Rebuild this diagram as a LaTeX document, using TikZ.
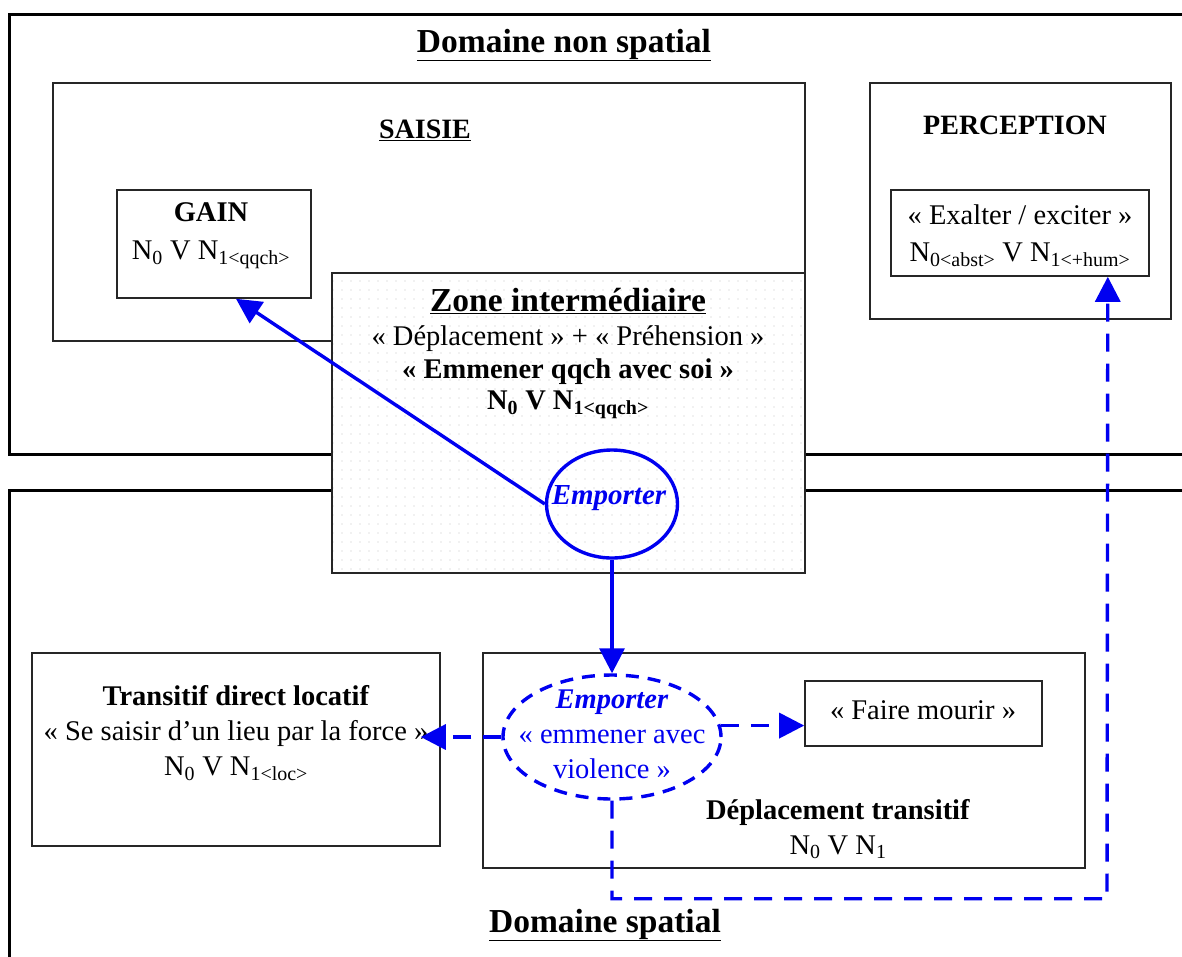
\documentclass[tikz,border=0pt]{standalone}
\usepackage{fontspec}
\setmainfont{Liberation Serif}
\usepackage{tikz}
\usetikzlibrary{shapes.geometric,arrows.meta,positioning,calc,fit,patterns.meta}
\definecolor{LinkBlue}{HTML}{0000F0}
\tikzset{
    % outer domains
    domain box/.style={
        rectangle,
        draw=black,
        line width=3pt,
        inner sep=0pt
    },
    frame/.style={
        rectangle,
        draw=black!85,
        line width=1.6pt,
        fill=white,
        inner sep=0pt
    },
    zone/.style={
        frame,
        preaction={fill=white},
        pattern={Dots[distance=9pt,radius=0.7pt]},
        pattern color=gray!45
    },
    textblock/.style={
        align=center,
        inner sep=0pt,
        font=\fontsize{28.5}{35}\selectfont
    },
    heading/.style={
        textblock,
        font=\fontsize{28}{35}\selectfont\bfseries
    },
    big heading/.style={
        textblock,
        font=\fontsize{33.5}{38}\selectfont\bfseries
    },
    verb/.style={
        ellipse,
        draw=LinkBlue,
        line width=3.4pt,
        inner sep=0pt
    },
    verb dashed/.style={
        verb,
        dash pattern=on 13pt off 9pt
    },
    arrow/.style={
        -{Triangle[length=25pt,width=25pt]},
        line width=3.4pt,
        color=LinkBlue
    },
    arrow dashed/.style={
        arrow,
        dash pattern=on 18pt off 12pt
    }
}

\begin{document}
\begin{tikzpicture}[x=1pt, y=-1pt]
        \useasboundingbox (0,0) rectangle (1182,956);

        % Domains
        \node[domain box, fit={(9,14) (1210,454)}] (nonspatial) {};
        \node[domain box, fit={(9,490) (1210,1010)}] (spatial) {};
        \node[big heading] (nonspatial_t) at (564,45) {\underline{Domaine non spatial}};
        \node[big heading] (spatial_t) at (605,925) {\underline{Domaine spatial}};

        % Non spatial boxes
        \node[frame, fit={(53,83) (805,341)}] (saisie) {};
        \node[heading] (saisie_t) at (425,130) {\underline{SAISIE}};
        \node[frame, fit={(117,190) (311,298)}] (gain) {};
        \node[textblock, font=\fontsize{28.5}{38}\selectfont] (gain_t) at (211,236)
              {\textbf{GAIN}\\N\textsubscript{0} V N\textsubscript{1<qqch>}};
        \node[frame, fit={(870,83) (1171,319)}] (perception) {};
        \node[heading] (perception_t) at (1015,125) {PERCEPTION};
        \node[frame, fit={(891,190) (1149,276)}] (exalter) {};
        \node[textblock, font=\fontsize{28.5}{37}\selectfont] (exalter_t) at (1020,236)
              {« Exalter / exciter »\\N\textsubscript{0<abst>} V N\textsubscript{1<+hum>}};

        % Intermediate zone
        \node[zone, fit={(332,273) (805,573)}] (zone) {};
        \node[big heading] (zone_t) at (568,301) {\underline{Zone intermédiaire}};
        \node[textblock, below=38pt of zone_t.center, anchor=center] (zone_a)
              {« Déplacement » + « Préhension »};
        \node[textblock, below=33pt of zone_a.center, anchor=center] (zone_b)
              {\bfseries « Emmener qqch avec soi »};
        \node[textblock, below=33pt of zone_b.center, anchor=center] (zone_c)
              {\bfseries N\textsubscript{0} V N\textsubscript{1<qqch>}};
        \node[verb, minimum width=131pt, minimum height=108pt] (emp) at (612,504) {};
        \node[textblock, text=LinkBlue, font=\fontsize{29}{35}\selectfont\bfseries\itshape]
              (emp_t) at (609,498) {Emporter};

        % Spatial boxes
        \node[frame, fit={(32,653) (440,846)}] (transitif) {};
        \node[textblock] (transitif_t) at (236,733)
              {\textbf{Transitif direct locatif}\\« Se saisir d’un lieu par la force »\\N\textsubscript{0} V N\textsubscript{1<loc>}};
        \node[frame, fit={(483,653) (1085,868)}] (deplacement) {};
        \node[textblock] (deplacement_t) at (838,829)
              {\textbf{Déplacement transitif}\\N\textsubscript{0} V N\textsubscript{1}};
        \node[frame, fit={(805,681) (1042,746)}] (mourir) {};
        \node[textblock] (mourir_t) at (923,710) {« Faire mourir »};
        \node[verb dashed, minimum width=218pt, minimum height=124pt] (viol) at (612,737) {};
        \node[textblock, text=LinkBlue] (viol_t) at (612,734)
              {\textbf{\textit{Emporter}}\\« emmener avec\\violence »};

        % Arrows
        \draw[arrow] (emp.west) -- ([xshift=22pt]gain.south);
        \draw[arrow] (emp.south) -- (viol.north);
        \draw[arrow dashed] (viol.west) -- ($(viol.west -| transitif.east)+(-20,0)$);
        \draw[arrow dashed] (viol.6) -- (viol.6 -| mourir.west);
        \draw[arrow dashed] (viol.south) |- ++(495,98) -- ($(exalter.south east)+(-42,0)$);
    \end{tikzpicture}
\end{document}
